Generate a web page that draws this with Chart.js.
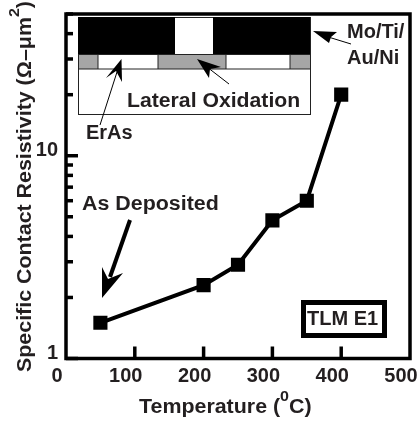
<!DOCTYPE html>
<html>
<head>
<meta charset="utf-8">
<style>
html, body { margin: 0; padding: 0; background: #fff; }
canvas { display: block; }
</style>
<script src="https://cdn.jsdelivr.net/npm/chart.js@4"></script>
</head>
<body>
<canvas id="chart" width="420" height="424"></canvas>
<script>
const temperatures = [50, 200, 250, 300, 350, 400];
const resistivity = [1.5, 2.3, 2.9, 4.8, 6, 20];
const xTicks = [0, 100, 200, 300, 400, 500];
const yTicks = [1, 2, 3, 4, 5, 6, 7, 8, 9, 10, 20, 30, 40, 50];
const yLabels = [1, 10];

const INK = '#231f20';
const FAMILY = '"Liberation Sans", Arial, sans-serif';

//filled polygon helper for inset arrows
function poly(ctx, pts) {
    ctx.beginPath();
    pts.forEach((p, i) => i ? ctx.lineTo(p[0], p[1]) : ctx.moveTo(p[0], p[1]));
    ctx.closePath();
    ctx.fill();
}

function line(ctx, x1, y1, x2, y2, w) {
    ctx.lineWidth = w;
    ctx.beginPath();
    ctx.moveTo(x1, y1);
    ctx.lineTo(x2, y2);
    ctx.stroke();
}

//text in the original is a little wider than the font, returns the drawn width
function label(ctx, text, x, y, size = 20, stretch = 1.07) {
    ctx.save();
    ctx.font = `bold ${size}px ${FAMILY}`;
    ctx.textAlign = 'left';
    ctx.textBaseline = 'middle';
    ctx.translate(x, y);
    ctx.scale(stretch, 1);
    ctx.fillText(text, 0, 0);
    const w = ctx.measureText(text).width * stretch;
    ctx.restore();
    return w;
}

//frame and inward ticks, drawn from the chart's own scales
const framePlugin = {
    id: 'frame',
    beforeDatasetsDraw(c) {
        const { ctx, chartArea: a, scales } = c;
        ctx.save();
        ctx.strokeStyle = '#000';
        ctx.lineWidth = 3.5;
        ctx.strokeRect(a.left, a.top, a.right - a.left, a.bottom - a.top);
        xTicks.slice(1, -1).forEach(v => {
            const x = scales.x.getPixelForValue(v);
            line(ctx, x, a.bottom, x, a.bottom - 12, 3.5);
        });
        yTicks.forEach(v => {
            const y = scales.y.getPixelForValue(v);
            line(ctx, a.left, y, a.left + (yLabels.includes(v) ? 12 : 7), y, 3.5);
        });
        ctx.restore();
    }
};

//inset sketch, arrows and free text
const notesPlugin = {
    id: 'notes',
    afterDraw(c) {
        const ctx = c.ctx;
        ctx.save();

        ctx.fillStyle = '#fff';
        ctx.fillRect(78, 17, 232, 97);
        ctx.fillStyle = '#a6a6a6';
        ctx.fillRect(78, 54, 20, 15);
        ctx.fillRect(158, 54, 68, 15);
        ctx.fillRect(290, 54, 20, 15);
        ctx.strokeStyle = '#222';
        ctx.lineWidth = 1;
        ctx.strokeRect(78.5, 17.5, 232, 97);
        line(ctx, 78, 54.5, 310, 54.5, 1);
        line(ctx, 78, 69, 310, 69, 1);
        line(ctx, 98, 54, 98, 69, 1);
        line(ctx, 158, 54, 158, 69, 1);
        line(ctx, 226, 54, 226, 69, 1);
        line(ctx, 290, 54, 290, 69, 1);
        ctx.fillStyle = '#000';
        ctx.fillRect(78, 17, 97, 37);
        ctx.fillRect(213, 17, 97, 37);

        ctx.strokeStyle = '#000';
        ctx.fillStyle = '#000';
        line(ctx, 100, 125, 117, 72, 1);
        poly(ctx, [[121.5, 59], [122, 82], [116, 71], [106, 78]]);
        line(ctx, 229, 84, 207, 67, 1);
        poly(ctx, [[197, 59], [221, 67], [210, 69], [209, 78]]);
        line(ctx, 351, 44, 325, 36, 1);
        poly(ctx, [[313, 31], [337, 32], [331, 37], [329, 43]]);
        line(ctx, 130, 220, 110, 277, 4);
        poly(ctx, [[102, 298], [102, 267], [108, 279], [123, 273]]);

        ctx.lineWidth = 5;
        ctx.strokeRect(303.5, 302.5, 81, 33);

        ctx.fillStyle = INK;
        label(ctx, 'Mo/Ti/', 347, 32, 20, 1);
        label(ctx, 'Au/Ni', 347, 58, 20, 1);
        label(ctx, 'Lateral Oxidation', 127, 101, 20, 1.06);
        label(ctx, 'ErAs', 86, 133, 20, 1);
        label(ctx, 'As Deposited', 82, 204);
        label(ctx, 'TLM E1', 307, 319, 20, 1);

        //axis titles, drawn here because of the superscripts
        let w = label(ctx, 'Temperature (', 139, 407);
        w += label(ctx, '0', 139 + w, 397, 15);
        label(ctx, 'C)', 139 + w, 407);

        ctx.translate(25, 372);
        ctx.rotate(-Math.PI / 2);
        w = label(ctx, 'Specific Contact Resistivity (Ω–μm', 0, 0);
        w += label(ctx, '2', w, -10, 15);
        label(ctx, ')', w, 0);
        ctx.restore();
    }
};

new Chart(document.getElementById('chart').getContext('2d'), {
    type: 'line',
    data: {
        labels: temperatures,
        datasets: [{
            data: temperatures.map((t, i) => ({ x: t, y: resistivity[i] })),
            borderColor: '#000',
            borderWidth: 4,
            backgroundColor: '#000',
            pointStyle: 'rect',
            pointRadius: 10,
            pointBorderWidth: 0,
            tension: 0
        }]
    },
    options: {
        responsive: false,
        animation: false,
        layout: { padding: { top: 14, right: 9 } },
        plugins: { legend: { display: false }, tooltip: { enabled: false } },
        scales: {
            x: {
                type: 'linear',
                min: 0,
                max: 500,
                afterFit: s => { s.height = 65.5; s.paddingLeft = 0; s.paddingRight = 0; },
                afterBuildTicks: s => { s.ticks = xTicks.map(v => ({ value: v })); },
                grid: { display: false },
                border: { display: false },
                ticks: {
                    color: INK,
                    maxRotation: 0,
                    padding: -2,
                    labelOffset: -9,
                    font: { family: FAMILY, size: 20, weight: 'bold' }
                }
            },
            y: {
                type: 'logarithmic',
                min: 1,
                max: 50,
                afterFit: s => { s.width = 66; s.paddingTop = 0; s.paddingBottom = 0; },
                afterBuildTicks: s => { s.ticks = yTicks.map(v => ({ value: v })); },
                grid: { display: false },
                border: { display: false },
                ticks: {
                    color: INK,
                    padding: 0,
                    labelOffset: -5,
                    autoSkip: false,
                    callback: v => yLabels.includes(v) ? String(v) : '',
                    font: { family: FAMILY, size: 20, weight: 'bold' }
                }
            }
        }
    },
    plugins: [framePlugin, notesPlugin]
});
</script>
</body>
</html>
